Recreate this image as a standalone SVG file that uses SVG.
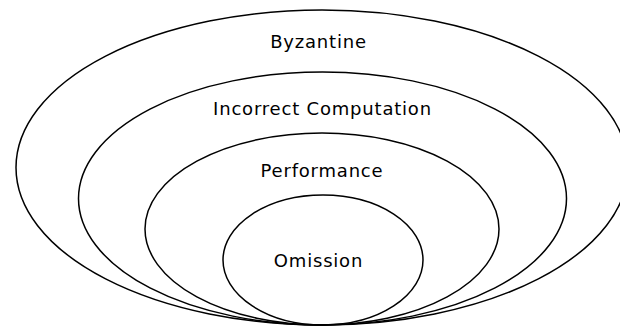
<svg xmlns="http://www.w3.org/2000/svg" width="620" height="327" viewBox="0 0 620 327">
<style>
.ring{fill:none;stroke:#000;stroke-width:1.5}
.lbl{font-family:"DejaVu Sans",sans-serif;font-size:18px;letter-spacing:0.8px;fill:#000;text-anchor:middle}
</style>
<rect width="620" height="327" fill="#fff"/>
<g id="byzantine">
<ellipse class="ring" cx="322" cy="167.5" rx="306" ry="157.5"/>
<text class="lbl" x="318.5" y="47.5">Byzantine</text>
</g>
<g id="incorrect-computation">
<ellipse class="ring" cx="322.5" cy="198.5" rx="244" ry="126.5"/>
<text class="lbl" x="322.5" y="115">Incorrect Computation</text>
</g>
<g id="performance">
<ellipse class="ring" cx="322" cy="229" rx="177" ry="96"/>
<text class="lbl" x="322" y="176.5">Performance</text>
</g>
<g id="omission">
<ellipse class="ring" cx="323" cy="260" rx="100" ry="65"/>
<text class="lbl" x="318.5" y="267">Omission</text>
</g>
<g id="connectors"/>
</svg>
